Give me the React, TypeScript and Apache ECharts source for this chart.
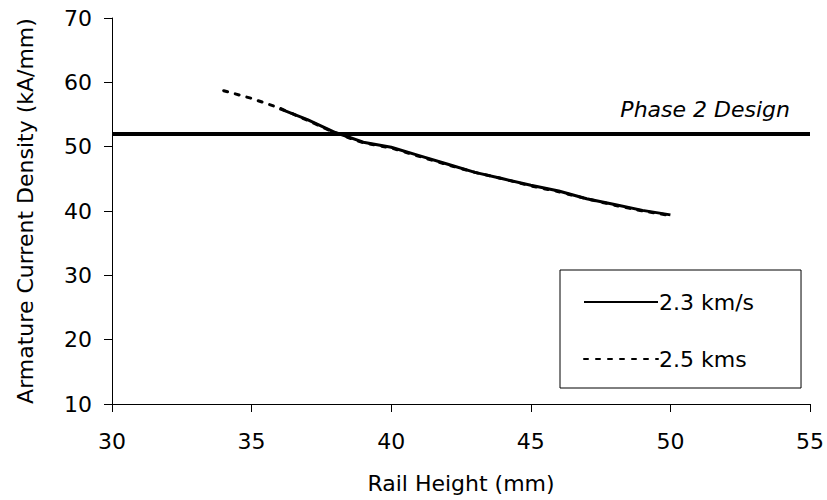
import React, { useEffect, useRef } from "react";
import * as echarts from "echarts";

const xTicks = [30, 35, 40, 45, 50, 55];
const yTicks = [10, 20, 30, 40, 50, 60, 70];

const railHeight23 = [36, 37, 38, 39, 40, 41, 42, 43, 44, 45, 46, 47, 48, 49, 50];
const density23 = [55.9, 54.2, 52.2, 50.7, 49.9, 48.6, 47.3, 46.0, 45.0, 44.0, 43.1, 41.9, 41.0, 40.1, 39.4];

const railHeight25 = [34, 35, 36, 37, 38, 39, 40, 41, 42, 43, 44, 45, 46, 47, 48, 49, 50];
const density25 = [58.7, 57.5, 56.0, 54.1, 52.1, 50.6, 49.8, 48.5, 47.2, 46.0, 45.0, 43.9, 43.0, 41.9, 40.9, 40.0, 39.3];

const designLevel = 52;
const designLabel = "Phase 2 Design";
const seriesNames = ["2.3 km/s", "2.5 kms"];

const FONT = "DejaVu Sans";

export default function App() {
  const ref = useRef<HTMLDivElement>(null);
  useEffect(() => {
    if (!ref.current) return;
    const chart = echarts.init(ref.current, undefined, { renderer: "svg" });
    chart.setOption({
      animation: false,
      backgroundColor: "#ffffff",
      textStyle: { fontFamily: FONT, color: "#000" },
      grid: { left: 112, right: 11, top: 18, bottom: 96 },
      legend: {
        orient: "vertical",
        left: 560,
        top: 270,
        padding: [21, 47, 18, 23],
        borderColor: "#000",
        borderWidth: 1,
        itemWidth: 74,
        itemHeight: 22,
        itemGap: 35,
        selectedMode: false,
        data: seriesNames,
        itemStyle: { opacity: 0 },
        lineStyle: { width: 2 },
        textStyle: { fontFamily: FONT, fontSize: 22, color: "#000", padding: [0, 0, 0, -4] },
      },
      xAxis: {
        type: "value",
        min: xTicks[0],
        max: xTicks[xTicks.length - 1],
        interval: 5,
        name: "Rail Height (mm)",
        nameLocation: "middle",
        nameGap: 68,
        nameTextStyle: { fontFamily: FONT, fontSize: 22, color: "#000" },
        axisLine: { lineStyle: { color: "#000", width: 1 } },
        axisTick: { show: true, length: 8, lineStyle: { color: "#000" } },
        axisLabel: { fontFamily: FONT, fontSize: 22, color: "#000", margin: 26 },
        splitLine: { show: false },
      },
      yAxis: {
        type: "value",
        min: yTicks[0],
        max: yTicks[yTicks.length - 1],
        interval: 10,
        name: "Armature Current Density (kA/mm)",
        nameLocation: "middle",
        nameGap: 76,
        nameTextStyle: { fontFamily: FONT, fontSize: 22, color: "#000" },
        axisLine: { show: true, lineStyle: { color: "#000", width: 1 } },
        axisTick: { show: true, length: 8, lineStyle: { color: "#000" } },
        axisLabel: { fontFamily: FONT, fontSize: 22, color: "#000", margin: 20 },
        splitLine: { show: false },
      },
      series: [
        {
          name: seriesNames[1],
          type: "line",
          symbol: "none",
          z: 2,
          data: railHeight25.map((x, i) => [x, density25[i]]),
          lineStyle: { color: "#000", width: 3, type: [4, 8], cap: "round" },
          itemStyle: { color: "#000" },
        },
        {
          name: seriesNames[0],
          type: "line",
          symbol: "none",
          z: 3,
          data: railHeight23.map((x, i) => [x, density23[i]]),
          lineStyle: { color: "#000", width: 3, type: "solid" },
          itemStyle: { color: "#000" },
          markLine: {
            silent: true,
            symbol: "none",
            data: [{ yAxis: designLevel }],
            lineStyle: { color: "#000", width: 4, type: "solid" },
            label: {
              show: true,
              position: "insideEndTop",
              formatter: designLabel,
              fontFamily: FONT,
              fontSize: 22,
              fontStyle: "italic",
              color: "#000",
              distance: [20, 13],
            },
          },
        },
      ],
    });
    return () => chart.dispose();
  }, []);
  return <div ref={ref} style={{ width: 827, height: 500, position: "absolute", left: 0, top: 0 }} />;
}
